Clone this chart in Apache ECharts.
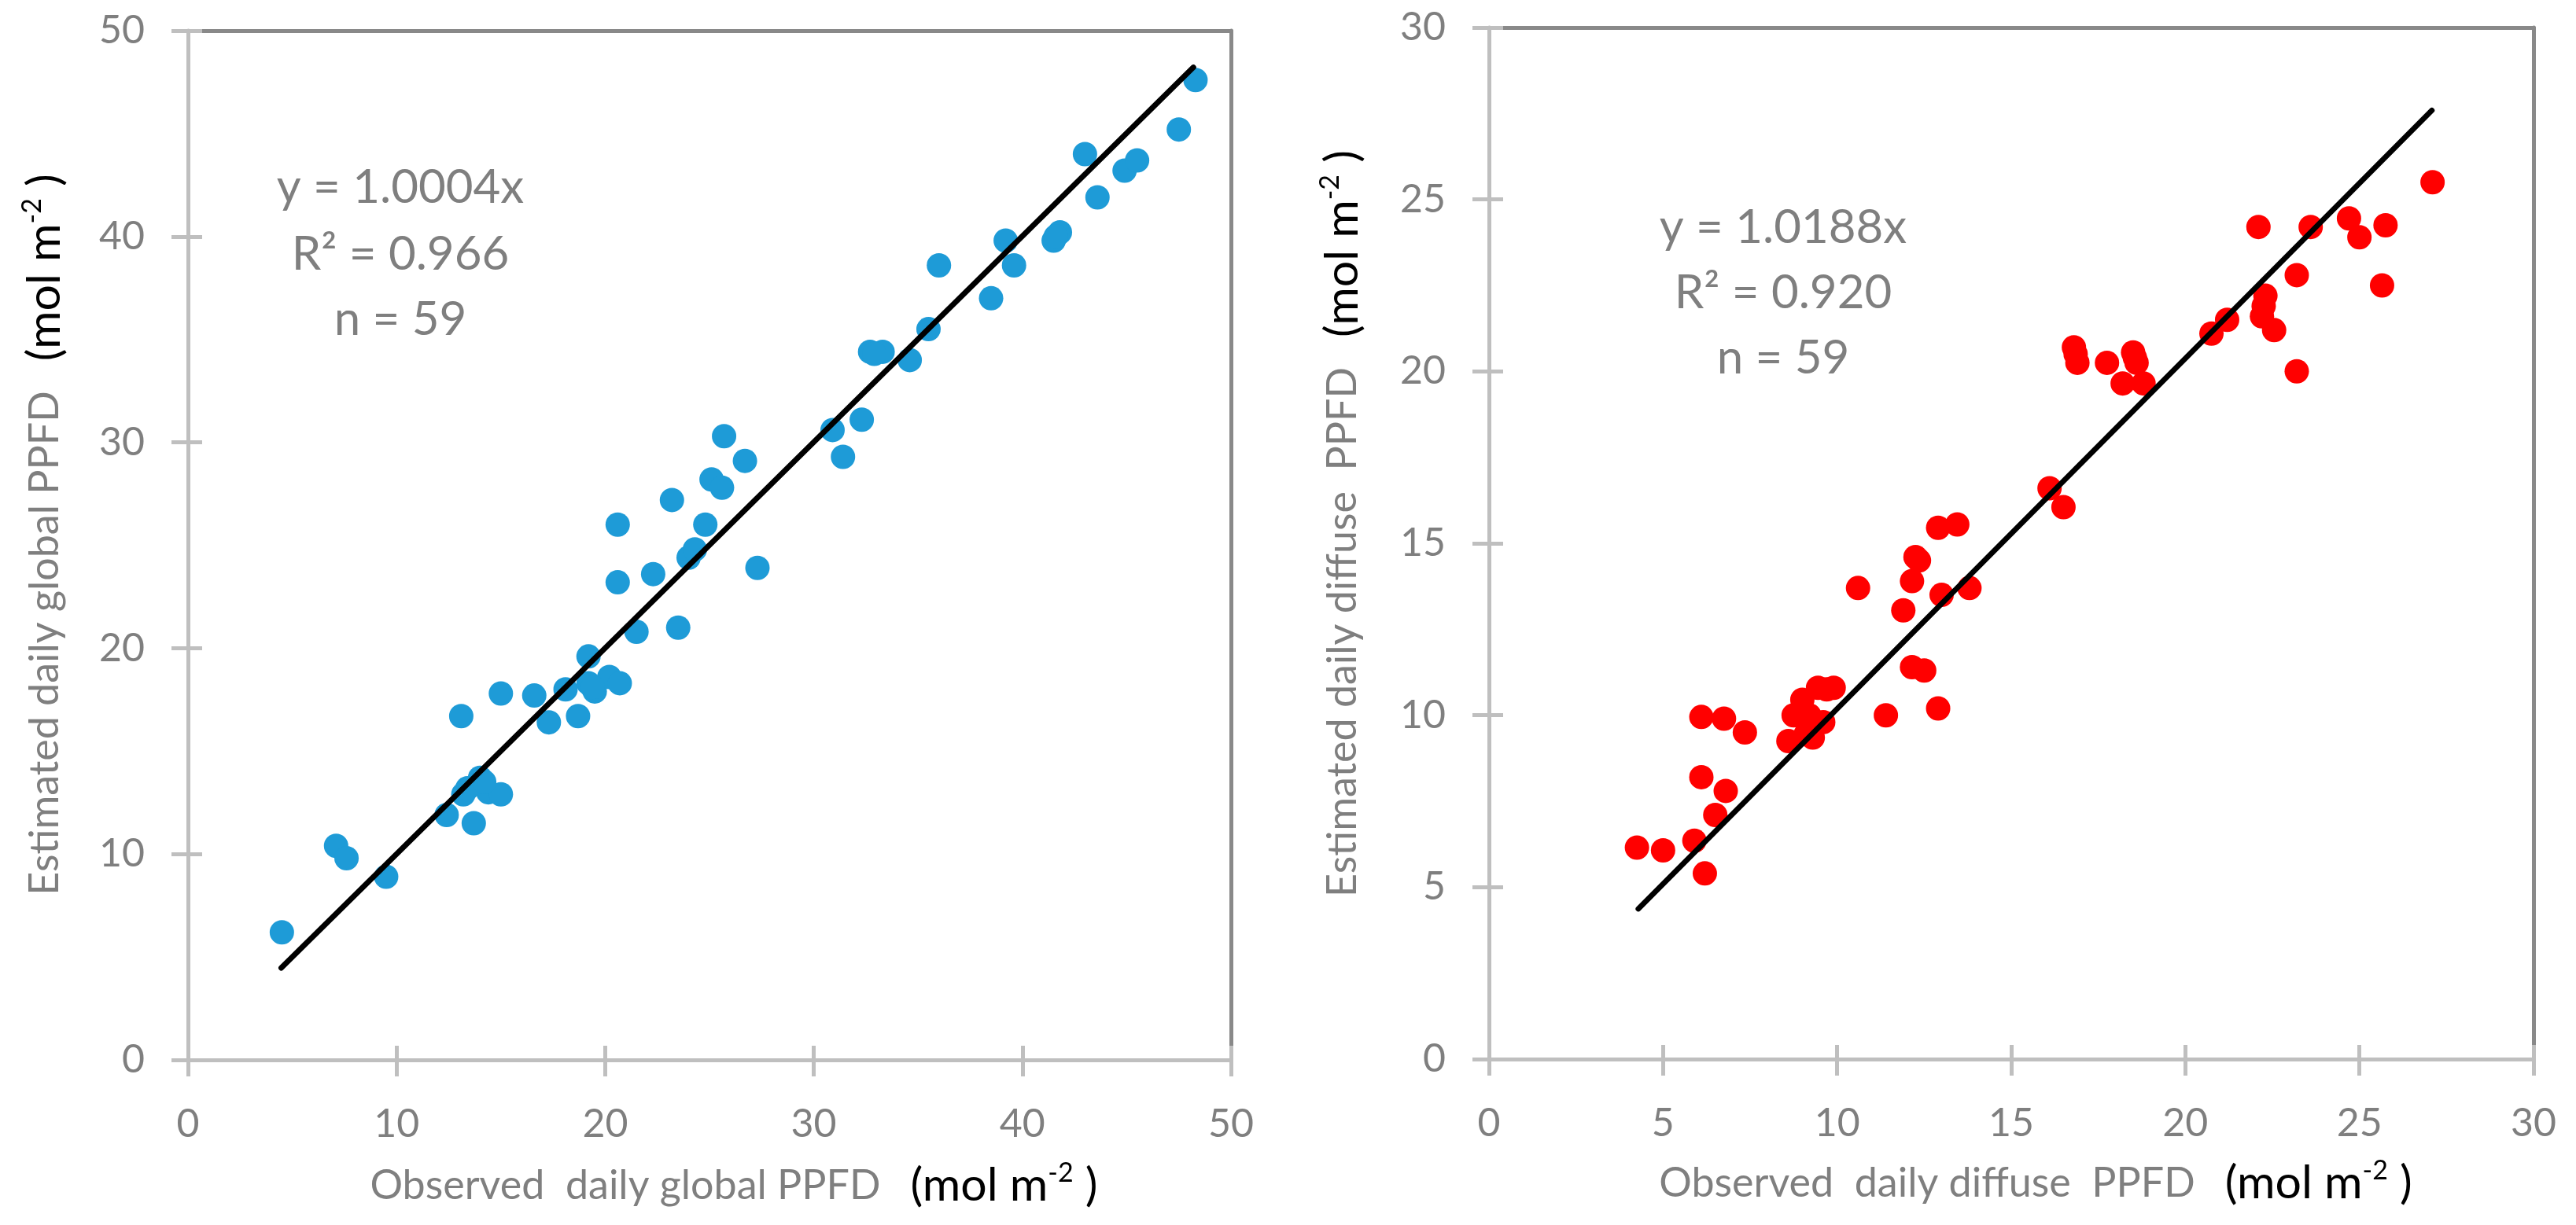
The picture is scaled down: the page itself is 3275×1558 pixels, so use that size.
<!DOCTYPE html>
<html>
<head>
<meta charset="utf-8">
<script src="https://cdn.jsdelivr.net/npm/echarts@6/dist/echarts.min.js"></script>
<style>
html,body{margin:0;padding:0;background:#fff;}
#chart{width:3275px;height:1558px;}
</style>
</head>
<body>
<div id="chart"></div>
<script>
// ---- data ----
const globalObs = [4.5,7.1,7.6,9.5,12.4,13.1,13.2,13.7,14.0,14.4,15.0,15.0,16.6,17.3,18.1,18.7,19.2,19.2,19.5,20.2,20.7,20.6,20.6,21.5,22.3,23.2,23.5,24.0,24.3,24.8,25.1,25.6,25.7,26.7,27.3,30.9,31.4,32.3,32.7,33.3,34.6,35.5,36.0,38.5,39.2,39.6,41.5,41.8,43.0,43.6,44.9,45.5,47.5,48.3,13.4,14.2,19.4,41.6,32.9];
const globalEst = [6.2,10.4,9.8,8.9,11.9,16.7,12.9,11.5,13.7,13.0,12.9,17.8,17.7,16.4,18.0,16.7,19.6,18.3,17.9,18.6,18.3,26.0,23.2,20.8,23.6,27.2,21.0,24.4,24.8,26.0,28.2,27.8,30.3,29.1,23.9,30.6,29.3,31.1,34.4,34.4,34.0,35.5,38.6,37.0,39.8,38.6,39.8,40.2,44.0,41.9,43.2,43.7,45.2,47.6,13.2,13.5,18.1,40.0,34.3];

const diffuseObs = [4.25,5.0,5.9,6.2,6.1,6.75,7.35,6.1,6.8,6.5,8.75,8.6,9.3,11.4,11.9,12.15,12.5,9.0,9.45,9.9,10.6,12.15,12.25,13.0,13.8,12.9,13.45,12.9,27.1,22.1,23.6,24.7,25.0,25.75,23.2,25.65,22.3,22.2,22.55,21.2,20.75,23.2,16.8,16.9,17.75,18.5,18.6,18.2,18.8,16.1,16.5,9.2,9.6,9.7,9.1,18.55,22.25,16.85,12.35];
const diffuseEst = [6.15,6.07,6.35,5.4,9.95,9.9,9.5,8.2,7.8,7.1,10.0,9.25,9.35,10.0,13.05,11.4,11.3,10.45,10.8,10.8,13.7,13.9,14.6,13.5,13.7,15.45,15.55,10.2,25.5,24.2,24.2,24.45,23.9,24.25,22.8,22.5,22.2,21.6,21.2,21.5,21.1,20.0,20.7,20.25,20.25,20.55,20.25,19.65,19.65,16.6,16.05,10.0,9.8,10.75,9.45,20.4,21.9,20.5,14.5];

// fitted lines (endpoints)
const globalFitX = [4.47, 48.2];
const globalFitY = [4.47, 48.22];
const diffuseFitX = [4.29, 27.08];
const diffuseFitY = [4.37, 27.59];

const globalTicks = [0,10,20,30,40,50];
const diffuseTicks = [0,5,10,15,20,25,30];

const globalStats = ['y = 1.0004x','R² = 0.966','n = 59'];
const diffuseStats = ['y = 1.0188x','R² = 0.920','n = 59'];

// ---- styles ----
const LIGHT = '#BFBFBF';
const DARK = '#898989';
const GRAY = '#7F7F7F';
const FONT = 'Lato';

function pairs(xs, ys){ return xs.map((x,i)=>[x, ys[i]]); }

function axesFor(dim, g, ticks){
  const min = ticks[0], max = ticks[ticks.length-1], interval = ticks[1]-ticks[0];
  const main = dim==='x' ? 'bottom' : 'left';
  const opp = dim==='x' ? 'top' : 'right';
  return [
    {gridIndex:g, type:'value', min, max, interval, position:main, z:4,
     axisLine:{show:true, onZero:false, lineStyle:{color:LIGHT, width:5}},
     axisTick:{show:true, length:21, lineStyle:{color:LIGHT, width:5}},
     axisLabel:{show:true, margin: dim==='x'?57:55, fontSize:50, color:GRAY, fontFamily:FONT},
     splitLine:{show:false}},
    {gridIndex:g, type:'value', min, max, interval, position:main, z:4,
     axisLine:{show:false, onZero:false},
     axisTick:{show:true, inside:true, length:18, lineStyle:{color:LIGHT, width:5}},
     axisLabel:{show:false}, splitLine:{show:false}},
    {gridIndex:g, type:'value', min, max, interval, position:opp, z:1,
     axisLine:{show:true, onZero:false, lineStyle:{color:DARK, width:5}},
     axisTick:{show:false}, axisLabel:{show:false}, splitLine:{show:false}}
  ];
}

function richTitle(gray, black){
  return {
    text: '{g|' + gray + '}{b|(mol m}{s|-2}{b| )}',
    rich: {
      g:{fontFamily:FONT, fontSize:52, fill:GRAY, lineHeight:66, padding:[0,38,0,0]},
      b:{fontFamily:FONT, fontSize:59, fill:'#000', lineHeight:66},
      s:{fontFamily:FONT, fontSize:34, fill:'#000', lineHeight:42, verticalAlign:'top'}
    },
    align:'center', verticalAlign:'middle'
  };
}

function statsText(lines, cx, ys){
  return lines.map((t,i)=>({type:'text', x:cx, y:ys[i], z:10,
    style:{text:t, fontFamily:FONT, fontSize:60, fill:GRAY, align:'center', verticalAlign:'middle'}}));
}

const chart = echarts.init(document.getElementById('chart'), null, {renderer:'canvas'});
const option = {
  animation:false,
  backgroundColor:'#fff',
  grid:[
    {left:239, top:39, width:1326, height:1309, containLabel:false},
    {left:1893, top:35, width:1328, height:1312, containLabel:false}
  ],
  xAxis:[...axesFor('x',0,globalTicks), ...axesFor('x',1,diffuseTicks)],
  yAxis:[...axesFor('y',0,globalTicks), ...axesFor('y',1,diffuseTicks)],
  series:[
    {type:'scatter', xAxisIndex:0, yAxisIndex:0, data:pairs(globalObs, globalEst),
     symbol:'circle', symbolSize:31, itemStyle:{color:'#1E9BD7', opacity:1}, z:2},
    {type:'line', xAxisIndex:0, yAxisIndex:0, data:pairs(globalFitX, globalFitY),
     showSymbol:false, symbol:'none', lineStyle:{color:'#000', width:7, cap:'round'}, z:3},
    {type:'scatter', xAxisIndex:3, yAxisIndex:3, data:pairs(diffuseObs, diffuseEst),
     symbol:'circle', symbolSize:31, itemStyle:{color:'#FF0000', opacity:1}, z:2},
    {type:'line', xAxisIndex:3, yAxisIndex:3, data:pairs(diffuseFitX, diffuseFitY),
     showSymbol:false, symbol:'none', lineStyle:{color:'#000', width:7, cap:'round'}, z:3}
  ],
  graphic:[
    ...statsText(globalStats, 509, [239,324,407]),
    ...statsText(diffuseStats, 2267, [290,373,456]),
    {type:'text', x:933, y:1508, style:richTitle('Observed  daily global PPFD')},
    {type:'text', x:2588, y:1505, style:richTitle('Observed  daily diffuse  PPFD')},
    {type:'text', x:57, y:680, rotation:Math.PI/2, style:richTitle('Estimated daily global PPFD')},
    {type:'text', x:1707, y:666, rotation:Math.PI/2, style:richTitle('Estimated daily diffuse  PPFD')}
  ]
};
chart.setOption(option);
</script>
</body>
</html>
